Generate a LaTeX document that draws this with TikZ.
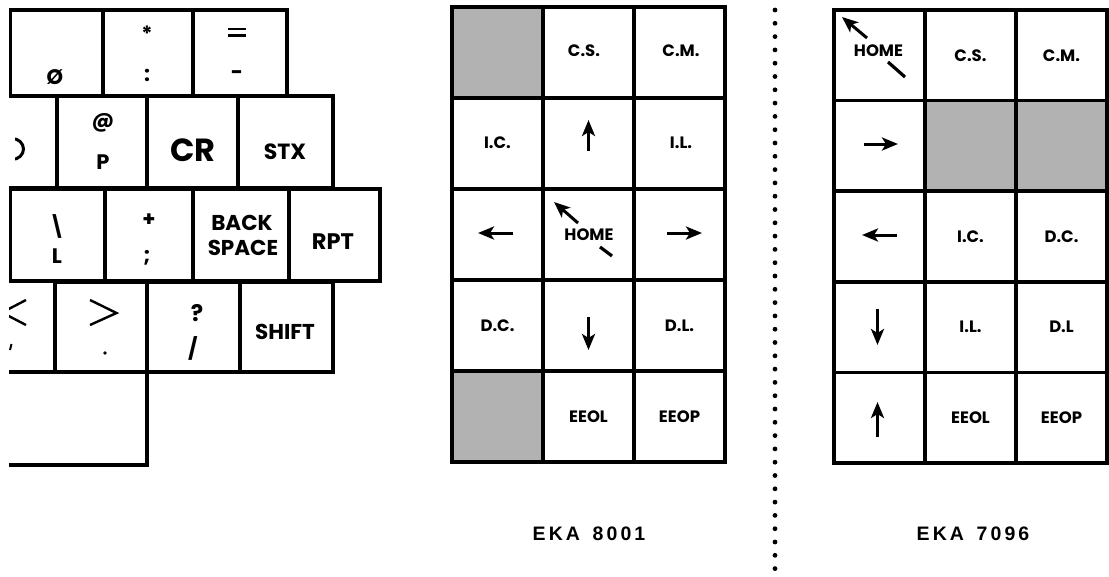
\documentclass[tikz,border=0pt]{standalone}
\usepackage{fontspec}
\setmainfont{Poppins}
\newfontfamily\ekafont[LetterSpace=16]{Liberation Sans Bold}
\usetikzlibrary{arrows.meta}
\tikzset{
  keyline/.style={draw, line width=3.4pt, line join=miter},
  cell/.style={draw, line width=3.6pt, minimum width=91pt, minimum height=91pt, inner sep=0pt},
  plain/.style={},
  shaded/.style={fill=black!30},
  lab/.style={font=\bfseries\fontsize{16.5}{16.5}\selectfont, inner sep=0pt},
  leg/.style={font=\bfseries\fontsize{21}{21}\selectfont, inner sep=0pt},
  word/.style={font=\bfseries\fontsize{21.5}{21.5}\selectfont, inner sep=0pt},
  arr/.style={line width=3pt, -{Stealth[length=16pt,width=13pt,inset=4pt]}},
  stroke/.style={line width=3.2pt},
  eka/.style={font=\ekafont\fontsize{19.5}{19.5}\selectfont, inner sep=0pt}
}
\begin{document}
\begin{tikzpicture}[x=1pt,y=-1pt]
\useasboundingbox (0,0) rectangle (1109,576);

% ---------------- left keyboard ----------------
\begin{scope}
\clip (9,0) rectangle (420,576);
% row 1
\draw[keyline] (10,10) rectangle (103,96);
\draw[keyline] (103,10) rectangle (193,96);
\draw[keyline] (193,10) rectangle (287,96);
% row 2
\draw[keyline] (-5,96) rectangle (57,188);
\draw[keyline] (57,96) rectangle (147,188);
\draw[keyline] (147,96) rectangle (238,188);
\draw[keyline] (238,96) rectangle (333,188);
% row 3
\draw[keyline] (10,189) rectangle (105,281);
\draw[keyline] (105,189) rectangle (193,281);
\draw[keyline] (193,189) rectangle (289,281);
\draw[keyline] (289,189) rectangle (380,281);
% row 4
\draw[keyline] (-5,281) rectangle (55,372);
\draw[keyline] (55,282) rectangle (147,372);
\draw[keyline] (147,282) rectangle (240,372);
\draw[keyline] (240,282) rectangle (333,372);
% row 5
\draw[keyline] (-5,372) rectangle (147,465);

% legends
\node[leg] (k0) at (55,77) {Ø};
\node[leg] (kstar) at (147,34) {*};
\node[leg] (kcolon) at (147,75) {:};
\draw[line width=2.6pt] (228,29) -- (246,29) (228,35.5) -- (246,35.5);
\node[leg] (kminus) at (237,75) {-};
\begin{scope}
\clip (15,120) rectangle (45,180);
\draw[line width=3pt] (12,149) ellipse [x radius=11.5, y radius=10.5];
\end{scope}
\node[leg] (kat) at (103,123) {@};
\node[leg] (kP) at (103,162) {P};
\node[font=\bfseries\fontsize{32}{32}\selectfont, inner sep=0pt] (kcr) at (193,150) {CR};
\node[font=\bfseries\fontsize{22}{22}\selectfont, inner sep=0pt] (kstx) at (285,152) {STX};
\node[leg] (kbsl) at (57,226) {\textbackslash};
\node[leg] (kL) at (57,256) {L};
\node[leg] (kplus) at (149,220) {+};
\node[leg] (ksemi) at (147,258) {;};
\node[word] (kback) at (242,223) {BACK};
\node[word] (kspace) at (243,248) {SPACE};
\node[font=\bfseries\fontsize{22.5}{22.5}\selectfont, inner sep=0pt] (krpt) at (333,242) {RPT};
\draw[line width=2.4pt] (26,300) -- (2,312.5) -- (26,325);
\draw[line width=2pt] (11.5,344) -- (10,350);
\draw[line width=2.4pt] (90,300) -- (116.5,313) -- (90,325);
\fill (105,353) circle (1.8);
\node[font=\bfseries\fontsize{23}{23}\selectfont, inner sep=0pt] (kq) at (197,313) {?};
\node[leg] (kslash) at (193,348) {/};
\node[word] (kshift) at (285,332) {SHIFT};
\end{scope}

% ---------------- EKA 8001 keypad ----------------
\foreach \c/\r/\s in {1/1/shaded,2/1/plain,3/1/plain,
                      1/2/plain,2/2/plain,3/2/plain,
                      1/3/plain,2/3/plain,3/3/plain,
                      1/4/plain,2/4/plain,3/4/plain,
                      1/5/shaded,2/5/plain,3/5/plain}
  \node[cell,\s] (a-\c-\r) at ({452+91*(\c-0.5)},{7+91*(\r-0.5)}) {};

\node[lab] (aCS) at (584,51) {C.S.};
\node[lab] (aCM) at (681,51) {C.M.};
\node[lab] (aIC) at (497.5,143) {I.C.};
\node[lab] (aIL) at (681,143) {I.L.};
\node[lab] (aHOME) at (589,235) {HOME};
\node[lab] (aDC) at (a-1-4) {D.C.};
\node[lab] (aDL) at (a-3-4) {D.L.};
\node[lab] (aEEOL) at (a-2-5) {EEOL};
\node[lab] (aEEOP) at (a-3-5) {EEOP};
\draw[arr] (588.5,151) -- (588.5,120);
\draw[arr] (513,233) -- (478,233);
\draw[arr] (667,233) -- (702,233);
\draw[arr] (588.5,317) -- (588.5,350);
\draw[arr] (578,223) -- (554,202);
\draw[stroke] (600,247) -- (612,256);

\node[eka] (aname) at (589,533.5) {EKA\hspace{4pt} 8001};

% ---------------- dotted separator ----------------
\foreach \i in {0,...,42}
  \fill (775,{10+13.3*\i}) circle (2.4);

% ---------------- EKA 7096 keypad ----------------
\foreach \c/\r/\s in {1/1/plain,2/1/plain,3/1/plain,
                      1/2/plain,2/2/shaded,3/2/shaded,
                      1/3/plain,2/3/plain,3/3/plain,
                      1/4/plain,2/4/plain,3/4/plain,
                      1/5/plain,2/5/plain,3/5/plain}
  \node[cell,minimum height=90.6pt,\s] (b-\c-\r) at ({834+91*(\c-0.5)},{10+90.6*(\r-0.5)}) {};

\node[lab] (bHOME) at (878.5,51) {HOME};
\node[lab] (bCS) at (b-2-1) {C.S.};
\node[lab] (bCM) at (b-3-1) {C.M.};
\node[lab] (bIC) at (b-2-3) {I.C.};
\node[lab] (bDC) at (b-3-3) {D.C.};
\node[lab] (bIL) at (b-2-4) {I.L.};
\node[lab] (bDL) at (b-3-4) {D.L};
\node[lab] (bEEOL) at (b-2-5) {EEOL};
\node[lab] (bEEOP) at (b-3-5) {EEOP};
\draw[arr] (864,144) -- (898,144);
\draw[arr] (897,235) -- (862,235);
\draw[arr] (877.5,309) -- (877.5,345);
\draw[arr] (877.5,437) -- (877.5,402);
\draw[arr] (867,38) -- (842,17);
\draw[stroke] (888,62) -- (905,77);

\node[eka] (bname) at (973,533.5) {EKA\hspace{4pt} 7096};
\end{tikzpicture}
\end{document}
